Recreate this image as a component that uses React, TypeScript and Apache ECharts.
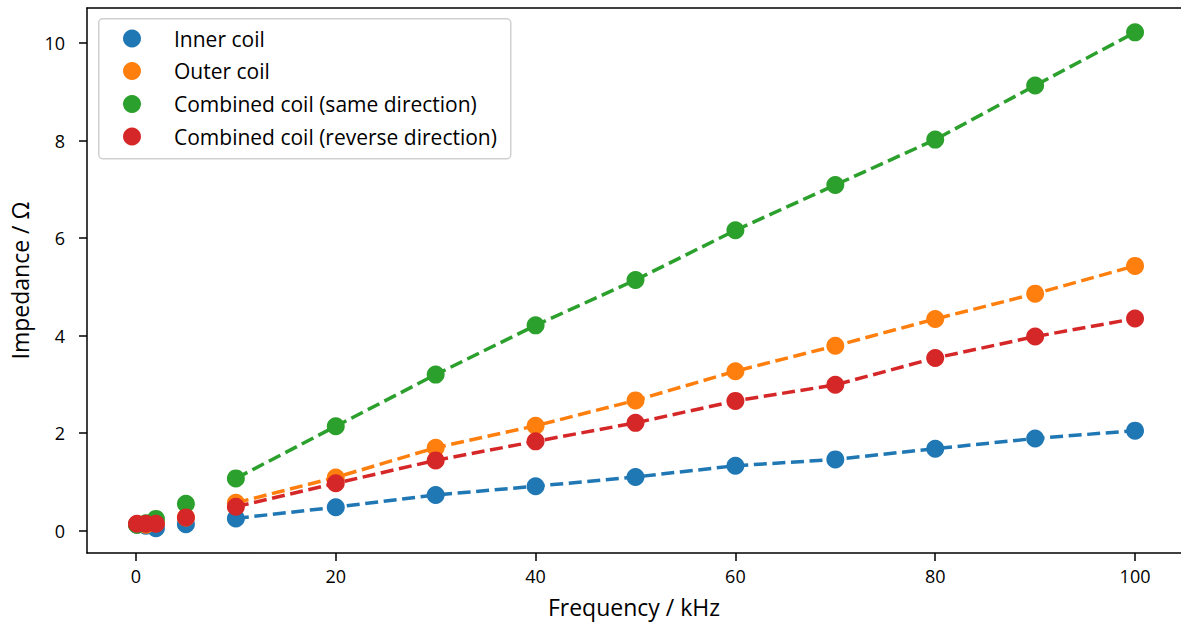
import React, { useEffect, useRef } from "react";
import * as echarts from "echarts";

const frequency = [0.1, 1, 2, 5, 10, 20, 30, 40, 50, 60, 70, 80, 90, 100];
const innerCoil = [0.12, 0.1, 0.05, 0.13, 0.25, 0.48, 0.73, 0.91, 1.1, 1.33, 1.46, 1.68, 1.89, 2.05];
const outerCoil = [0.13, 0.12, 0.15, 0.27, 0.57, 1.09, 1.7, 2.15, 2.67, 3.27, 3.79, 4.34, 4.86, 5.43];
const combinedSame = [0.12, 0.15, 0.24, 0.55, 1.07, 2.14, 3.2, 4.21, 5.14, 6.16, 7.09, 8.02, 9.13, 10.22];
const combinedReverse = [0.14, 0.14, 0.14, 0.27, 0.49, 0.97, 1.44, 1.83, 2.21, 2.66, 2.99, 3.54, 3.98, 4.35];
const seriesNames = [
  "Inner coil",
  "Outer coil",
  "Combined coil (same direction)",
  "Combined coil (reverse direction)",
];
const seriesValues = [innerCoil, outerCoil, combinedSame, combinedReverse];
const colors = ["#1f77b4", "#ff7f0e", "#2ca02c", "#d62728"];
const fitFromFrequency = 10;
const xTicks = [0, 20, 40, 60, 80, 100];
const yTicks = [0, 2, 4, 6, 8, 10];

const FONT = "'Open Sans', 'DejaVu Sans', sans-serif";

export default function App() {
  const ref = useRef<HTMLDivElement>(null);

  useEffect(() => {
    if (!ref.current) return;
    const chart = echarts.init(ref.current, null, { renderer: "svg" });

    const series: any[] = [];
    seriesValues.forEach((vals, i) => {
      const pts = frequency.map((f, j) => [f, vals[j]]);
      series.push({
        type: "line",
        name: seriesNames[i] + " trend",
        data: pts.filter((p) => p[0] >= fitFromFrequency),
        showSymbol: false,
        symbol: "none",
        lineStyle: { color: colors[i], width: 3.5, type: [13, 5.6], cap: "butt" },
        z: 2 + i * 2,
        silent: true,
      });
      series.push({
        type: "scatter",
        name: seriesNames[i],
        data: pts,
        symbol: "circle",
        symbolSize: 18,
        itemStyle: { color: colors[i], opacity: 1 },
        z: 3 + i * 2,
      });
    });

    const legendX = 98;
    const legendY = 18;
    const rowY = [20.5, 53, 86, 118.5];
    const graphicElems: any[] = [
      {
        type: "rect",
        left: legendX,
        top: legendY,
        shape: { width: 412, height: 140, r: 4 },
        style: { fill: "rgba(255,255,255,0.85)", stroke: "#d0d0d0", lineWidth: 1.5 },
        z: 100,
      },
    ];
    seriesNames.forEach((name, i) => {
      graphicElems.push({
        type: "circle",
        shape: { cx: 132, cy: legendY + rowY[i], r: 9 },
        style: { fill: colors[i] },
        z: 101,
      });
      graphicElems.push({
        type: "text",
        x: 174,
        y: legendY + rowY[i],
        style: {
          text: name,
          font: `21px ${FONT}`,
          fill: "#000",
          textVerticalAlign: "middle",
          verticalAlign: "middle",
        },
        z: 101,
      });
    });

    chart.setOption({
      animation: false,
      backgroundColor: "#ffffff",
      textStyle: { fontFamily: FONT },
      grid: { left: 86, right: 0, top: 8, bottom: 77, containLabel: false },
      xAxis: [
        {
          type: "value",
          min: -4.9,
          max: 104.6,
          name: "Frequency / kHz",
          nameLocation: "middle",
          nameGap: 42,
          nameTextStyle: { fontSize: 23, color: "#000", fontFamily: FONT },
          axisLine: { show: true, onZero: false, lineStyle: { color: "#000", width: 1.5 } },
          axisTick: { show: true, length: 8, lineStyle: { color: "#000", width: 1.5 }, customValues: xTicks },
          axisLabel: { fontSize: 18, color: "#000", margin: 14, fontFamily: FONT, customValues: xTicks },
          splitLine: { show: false },
        },
        {
          type: "value",
          position: "top",
          min: -4.9,
          max: 104.6,
          axisLine: { show: true, onZero: false, lineStyle: { color: "#000", width: 1.5 } },
          axisTick: { show: false },
          axisLabel: { show: false },
          splitLine: { show: false },
        },
      ],
      yAxis: {
        type: "value",
        min: -0.46,
        max: 10.72,
        name: "Impedance / Ω",
        nameLocation: "middle",
        nameGap: 56,
        nameRotate: 90,
        nameTextStyle: { fontSize: 23, color: "#000", fontFamily: FONT },
        axisLine: { show: true, onZero: false, lineStyle: { color: "#000", width: 1.5 } },
        axisTick: { show: true, length: 8, lineStyle: { color: "#000", width: 1.5 }, customValues: yTicks },
        axisLabel: { fontSize: 18, color: "#000", margin: 22, fontFamily: FONT, customValues: yTicks },
        splitLine: { show: false },
      },
      graphic: graphicElems,
      series,
    });

    return () => chart.dispose();
  }, []);

  return (
    <div
      ref={ref}
      style={{ position: "fixed", left: 0, top: 0, width: 1181, height: 630, background: "#fff" }}
    />
  );
}
